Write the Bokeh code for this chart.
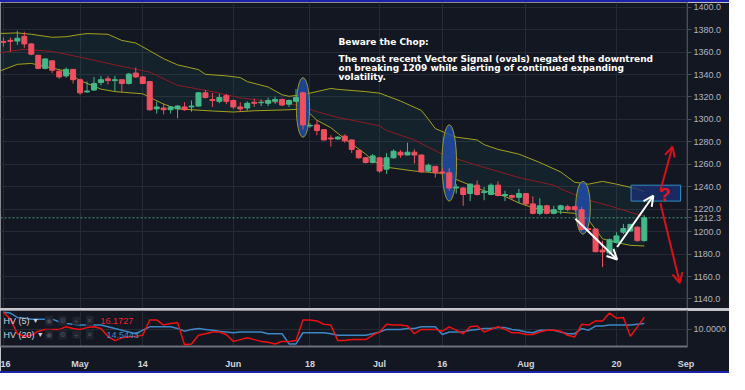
from bokeh.plotting import figure
from bokeh.models import (Range1d, FixedTicker, NumeralTickFormatter, Span, Label,
                          Arrow, OpenHead, ColumnDataSource, Div)
from bokeh.layouts import column
from bokeh.embed import file_html
from bokeh.resources import INLINE

# ---------------- data ----------------
tick_idx = [0, 11, 20, 33, 44, 54, 63, 75, 88, 98]
tick_labels = ["16", "May", "14", "Jun", "18", "Jul", "16", "Aug", "20", "Sep"]
price_ticks = [1140, 1160, 1180, 1200, 1220, 1240, 1260, 1280, 1300, 1320, 1340, 1360, 1380, 1400]
hv_ticks = [10]

opens = [1369.5, 1370.5, 1369.8, 1374.0, 1367.3, 1357.2, 1345.5, 1352.2, 1343.0, 1338.8,
         1344.6, 1335.4, 1324.5, 1326.2, 1332.9, 1336.2, 1334.6, 1335.4, 1332.0, 1341.3,
         1337.9, 1333.7, 1309.4, 1310.2, 1308.6, 1309.4, 1311.1, 1311.1, 1311.9, 1323.7,
         1317.8, 1316.1, 1321.1, 1316.9, 1311.1, 1310.2, 1315.3, 1314.9, 1314.4, 1316.1,
         1317.8, 1313.6, 1316.1, 1323.7, 1294.2, 1295.1, 1290.9, 1283.4, 1282.6, 1285.1,
         1281.7, 1272.5, 1265.8, 1261.6, 1265.8, 1255.7, 1265.8, 1270.8, 1268.3, 1270.8,
         1268.3, 1254.0, 1258.2, 1253.2, 1252.4, 1238.9, 1238.9, 1234.0, 1241.4, 1234.8,
         1233.1, 1241.4, 1232.2, 1232.2, 1230.6, 1233.9, 1224.7, 1216.3, 1223.0, 1216.3,
         1219.6, 1222.2, 1222.2, 1219.6, 1202.5, 1202.3, 1183.6, 1181.0, 1190.3, 1199.5,
         1200.6, 1204.0, 1192.0]
highs = [1373.0, 1373.0, 1379.0, 1378.2, 1368.0, 1357.5, 1354.5, 1352.5, 1344.6, 1346.3,
         1345.0, 1336.2, 1333.7, 1337.9, 1338.8, 1338.8, 1338.8, 1335.5, 1341.3, 1346.3,
         1338.8, 1334.0, 1316.1, 1314.4, 1311.9, 1312.8, 1315.3, 1316.9, 1324.5, 1326.2,
         1323.7, 1322.8, 1322.8, 1317.8, 1315.3, 1316.1, 1318.6, 1317.8, 1319.5, 1320.3,
         1318.6, 1317.8, 1327.0, 1324.5, 1296.8, 1299.3, 1291.0, 1285.9, 1285.1, 1286.7,
         1282.0, 1272.8, 1266.6, 1269.1, 1266.6, 1270.0, 1273.3, 1272.5, 1279.2, 1273.3,
         1268.5, 1260.7, 1258.5, 1256.5, 1256.5, 1242.3, 1239.8, 1243.1, 1245.6, 1239.8,
         1243.1, 1244.8, 1236.4, 1233.1, 1238.1, 1234.0, 1231.4, 1229.7, 1223.9, 1223.0,
         1223.9, 1223.9, 1223.0, 1222.2, 1203.5, 1203.1, 1192.0, 1193.9, 1199.5, 1206.9,
         1206.6, 1204.5, 1214.5]
lows = [1365.0, 1360.5, 1366.4, 1363.9, 1357.2, 1344.6, 1344.6, 1341.3, 1336.2, 1337.1,
        1332.0, 1322.0, 1323.7, 1325.3, 1330.4, 1331.2, 1325.3, 1324.5, 1331.2, 1337.1,
        1331.5, 1307.7, 1305.2, 1304.4, 1305.2, 1301.0, 1307.7, 1306.9, 1311.5, 1318.6,
        1311.1, 1314.4, 1313.6, 1309.4, 1306.9, 1307.7, 1311.1, 1311.9, 1311.9, 1313.6,
        1311.9, 1311.1, 1315.3, 1290.9, 1292.6, 1285.9, 1281.5, 1275.8, 1282.0, 1279.2,
        1270.0, 1265.0, 1260.7, 1260.7, 1252.4, 1251.5, 1265.0, 1265.8, 1268.0, 1260.7,
        1252.4, 1253.2, 1248.2, 1250.7, 1236.4, 1233.9, 1223.0, 1227.2, 1232.2, 1228.0,
        1232.5, 1231.4, 1227.2, 1228.0, 1225.5, 1223.0, 1215.4, 1214.6, 1215.4, 1215.4,
        1215.4, 1218.0, 1219.0, 1200.3, 1200.5, 1181.8, 1168.5, 1179.4, 1189.4, 1197.8,
        1200.0, 1191.1, 1191.1]
closes = [1368.7, 1369.6, 1372.3, 1367.3, 1358.1, 1345.5, 1353.9, 1343.8, 1337.9, 1344.6,
          1335.4, 1323.7, 1325.3, 1332.0, 1335.4, 1334.6, 1335.4, 1332.0, 1340.4, 1337.9,
          1332.0, 1308.6, 1311.1, 1308.6, 1311.1, 1311.9, 1308.6, 1311.9, 1323.7, 1319.5,
          1316.9, 1319.5, 1316.1, 1311.1, 1309.4, 1314.4, 1314.4, 1315.3, 1316.9, 1317.8,
          1312.8, 1316.9, 1319.5, 1295.1, 1294.7, 1290.1, 1281.7, 1282.6, 1284.2, 1280.9,
          1273.3, 1265.8, 1261.6, 1267.5, 1254.0, 1265.8, 1271.6, 1268.3, 1270.8, 1268.3,
          1253.2, 1259.1, 1252.4, 1252.4, 1238.9, 1239.8, 1233.1, 1242.3, 1233.1, 1235.6,
          1241.4, 1232.2, 1233.1, 1230.6, 1233.9, 1224.7, 1216.3, 1223.0, 1216.3, 1219.6,
          1223.0, 1219.6, 1219.6, 1202.0, 1202.0, 1182.1, 1181.9, 1192.8, 1196.2, 1202.8,
          1206.5, 1192.0, 1212.3]

# Bollinger bands (at these bar positions)
upper_x = [-1, 2, 4, 7, 9, 11, 12, 15, 17, 19, 21, 23, 25, 28, 29, 32, 34, 35, 38, 40, 41, 43,
           44, 47, 48, 52, 54, 57, 60, 61, 62, 65, 68, 69, 71, 74, 77, 80, 82, 84, 86, 88, 91, 92]
upper_v = [1376.5, 1377.1, 1375.9, 1373.2, 1373.7, 1375.7, 1376.5, 1375.9, 1370.4, 1368.1, 1361.2,
           1354.1, 1348.6, 1344.4, 1340.2, 1338.8, 1337.3, 1333.7, 1328.9, 1322.0, 1320.6, 1322.0,
           1323.4, 1327.6, 1326.8, 1324.8, 1323.4, 1316.4, 1308.0, 1300.2, 1291.8, 1284.2, 1281.7,
           1277.5, 1273.3, 1269.1, 1261.6, 1253.2, 1244.0, 1242.3, 1244.8, 1242.3, 1238.1, 1235.6]
mid_x = [-1, 3, 7, 11, 16, 21, 25, 30, 34, 38, 42, 45, 48, 54, 55, 59, 63, 65, 68, 74, 79, 80,
         84, 87, 91, 92]
mid_v = [1359.0, 1362.5, 1360.6, 1355.5, 1348.6, 1342.1, 1330.4, 1324.8, 1319.2, 1316.1, 1313.0,
         1306.9, 1301.8, 1294.3, 1290.1, 1281.7, 1269.1, 1264.9, 1259.1, 1248.2, 1241.4, 1238.1,
         1228.0, 1223.0, 1215.4, 1213.8]
lower_x = [-1, 2, 4, 6, 9, 11, 14, 16, 20, 23, 25, 30, 33, 36, 41, 43, 44, 45, 47, 49, 52, 53,
           55, 59, 62, 64, 65, 67, 69, 72, 74, 76, 79, 82, 84, 85, 86, 88, 90, 92]
lower_v = [1342.0, 1349.1, 1349.9, 1347.1, 1343.0, 1334.6, 1327.0, 1324.8, 1322.8, 1313.6, 1309.4,
           1307.5, 1306.6, 1307.7, 1308.6, 1309.4, 1305.2, 1299.3, 1292.6, 1282.6, 1269.1, 1263.3,
           1257.4, 1254.0, 1252.4, 1251.5, 1246.5, 1241.4, 1236.4, 1231.4, 1225.5, 1221.3, 1217.9,
           1216.3, 1210.4, 1202.0, 1193.6, 1190.3, 1187.8, 1187.2]

# Historical volatility
hv5 = [18.7, 15.2, 7.8, 6.5, 7.0, 9.1, 10.0, 10.0, 10.0, 11.3,
       10.4, 10.0, 10.9, 11.3, 10.4, 6.5, 4.3, 5.7, 6.1, 6.5,
       7.0, 14.8, 14.8, 12.2, 13.0, 13.5, 2.2, 2.6, 7.0, 7.8,
       8.7, 8.7, 7.4, 3.9, 4.8, 5.7, 4.8, 3.9, 3.5, 2.6,
       3.9, 3.9, 4.3, 14.8, 14.8, 14.3, 12.6, 12.2, 4.3, 4.3,
       4.8, 4.8, 4.8, 7.0, 8.7, 12.6, 12.2, 12.2, 11.7, 7.8,
       10.0, 10.0, 10.0, 9.1, 11.3, 9.6, 7.8, 11.3, 11.7, 8.7,
       10.0, 11.3, 10.0, 8.3, 8.3, 7.4, 7.4, 8.7, 9.6, 9.6,
       9.1, 7.0, 6.1, 12.6, 12.2, 14.3, 14.3, 18.3, 15.7, 16.1,
       6.5, 11.3, 16.2]
hv20 = [18.7, 18.3, 16.1, 15.7, 15.2, 15.2, 15.2, 15.2, 13.9, 13.0,
        12.6, 12.2, 12.2, 12.2, 12.2, 11.3, 10.4, 9.6, 8.7, 7.8,
        9.6, 11.3, 11.3, 11.3, 11.3, 10.4, 9.1, 10.0, 10.4, 10.0,
        9.6, 9.1, 8.7, 8.3, 8.7, 8.7, 8.7, 8.7, 7.8, 7.8,
        7.8, 2.6, 2.6, 8.3, 8.3, 8.3, 8.3, 7.8, 7.0, 7.0,
        7.0, 7.0, 7.0, 7.8, 8.7, 10.0, 10.0, 10.0, 10.4, 10.4,
        11.3, 11.3, 11.3, 7.4, 8.7, 8.7, 8.7, 9.6, 10.0, 10.4,
        10.4, 10.9, 10.9, 10.0, 9.6, 8.7, 8.3, 9.6, 9.6, 9.6,
        8.7, 7.8, 7.8, 10.4, 9.6, 11.7, 11.7, 12.2, 12.2, 12.2,
        12.2, 12.6, 13.0]
hv5_last = "16.1727"
hv20_last = "14.5443"

# Vector-signal ovals (bar, price centre, size)
oval_x = [43, 64, 83.2]
oval_y = [1310.7, 1261.2, 1221.3]
oval_w = [1.9, 2.1, 2.1]
oval_h = [53, 68, 47]

note_lines = ["Beware the Chop:",
              "The most recent Vector Signal (ovals) negated the downtrend",
              "on breaking 1209 while alerting of continued expanding",
              "volatility."]
note_y = [1369.0, 1353.6, 1345.7, 1337.7]

# ---------------- style ----------------
BG = "#131722"
GRID = "#262a35"
AXIS = "#4a4e5a"
RED = "#ef4f5e"
GREEN = "#44b888"
W = 729
RIGHT = 40
MAIN_H = 306
Y0, Y1 = 1131.5, 1404.2
X_RANGE = Range1d(-0.42, 98.2)

idx = list(range(len(opens)))
colors = [GREEN if c >= o else RED for o, c in zip(opens, closes)]
src = ColumnDataSource(dict(x=idx, h=highs, l=lows,
                            top=[max(o, c) for o, c in zip(opens, closes)],
                            bot=[min(o, c) for o, c in zip(opens, closes)],
                            color=colors))

p = figure(width=W, height=MAIN_H, x_range=X_RANGE, y_range=Range1d(Y0, Y1),
           output_backend="svg", toolbar_location=None,
           x_axis_location=None, y_axis_location="right",
           min_border_left=0, min_border_right=RIGHT, min_border_top=0, min_border_bottom=0,
           background_fill_color=BG, border_fill_color=BG, outline_line_color=None)

ya = p.yaxis[0]
# price scale: regular levels plus the last price
ya.ticker = FixedTicker(ticks=price_ticks + [closes[-1]])
ya.formatter = NumeralTickFormatter(format="0.0")
ya.axis_line_color = AXIS
ya.major_tick_line_color = AXIS
ya.major_tick_out = 4
ya.major_tick_in = 0
ya.minor_tick_line_color = None
ya.major_label_standoff = 2
ya.major_label_text_color = "#b2b5be"
ya.major_label_text_font = "Liberation Sans"
ya.major_label_text_font_size = "9px"
p.xgrid.ticker = FixedTicker(ticks=tick_idx)
p.ygrid.ticker = FixedTicker(ticks=price_ticks)
p.grid.grid_line_color = GRID

# band fill + lines
p.patch(upper_x + lower_x[::-1], upper_v + lower_v[::-1], fill_color="#26a69a", fill_alpha=0.08,
        line_color=None)
p.line(upper_x, upper_v, line_color="#a3a21c", line_width=1)
p.line(lower_x, lower_v, line_color="#a3a21c", line_width=1)
p.line(mid_x, mid_v, line_color="#8e1b22", line_width=1)

# ovals
p.ellipse(x=oval_x, y=oval_y, width=oval_w, height=oval_h, fill_color="#1f4ba6", fill_alpha=0.85,
          line_color="#9c9a2c", line_width=1)

# last price line
p.add_layout(Span(location=closes[-1], dimension="width", line_color="#4caf86",
                  line_dash="2 2", line_width=1, line_alpha=0.85))

# candles
p.segment("x", "h", "x", "l", source=src, line_color="color", line_width=1)
p.vbar(x="x", width=0.72, top="top", bottom="bot", fill_color="color", line_color="color",
       source=src)

# target box and question mark
p.quad(left=[90.1], right=[97.2], bottom=[1227.2], top=[1241.4], fill_color="#1a2f72",
       fill_alpha=0.8, line_color="#2c8fc4", line_width=1)
p.add_layout(Label(x=94.9, y=1233.1, text="?", text_color="#e8131d", text_font="Liberation Sans",
                   text_font_style="bold", text_font_size="19px", text_align="center",
                   text_baseline="middle"))

# arrows
for xs, ys, xe, ye, col in [(82.1, 1211.5, 88.1, 1175.2, "white"),
                            (88.1, 1186.3, 93.3, 1232.0, "white"),
                            (94.3, 1236.4, 96.05, 1275.8, "#d8101a"),
                            (94.3, 1225.5, 97.1, 1154.2, "#d8101a")]:
    p.add_layout(Arrow(x_start=xs, y_start=ys, x_end=xe, y_end=ye, line_color=col, line_width=2,
                       end=OpenHead(size=10, line_color=col, line_width=2)))

# note text
for t, yv in zip(note_lines, note_y):
    p.add_layout(Label(x=48.1, y=yv, text=t, text_color="white", text_font="DejaVu Sans",
                       text_font_style="bold", text_font_size="9px", text_baseline="alphabetic"))

# ---------------- HV panel ----------------
q = figure(width=W, height=61, x_range=X_RANGE, y_range=Range1d(1.3, 19.6),
           output_backend="svg", toolbar_location=None, y_axis_location="right",
           min_border_left=0, min_border_right=RIGHT, min_border_top=0, min_border_bottom=18,
           background_fill_color=BG, border_fill_color=BG, outline_line_color=None)
qa = q.yaxis[0]
qa.ticker = FixedTicker(ticks=hv_ticks)
qa.formatter = NumeralTickFormatter(format="0.0000")
qa.axis_line_color = AXIS
qa.major_tick_line_color = AXIS
qa.major_tick_out = 4
qa.major_tick_in = 0
qa.minor_tick_line_color = None
qa.major_label_standoff = 2
qa.major_label_text_color = "#b2b5be"
qa.major_label_text_font = "Liberation Sans"
qa.major_label_text_font_size = "9px"
xa = q.xaxis[0]
xa.ticker = FixedTicker(ticks=tick_idx)
xa.major_label_overrides = {t: l for t, l in zip(tick_idx, tick_labels)}
xa.axis_line_color = "#6e717b"
xa.axis_line_width = 2
xa.major_tick_line_color = None
xa.minor_tick_line_color = None
xa.major_label_standoff = 6
xa.major_label_text_color = "#d1d4dc"
xa.major_label_text_font = "Liberation Sans"
xa.major_label_text_font_style = "bold"
xa.major_label_text_font_size = "9px"
q.grid.grid_line_color = GRID

q.line(idx, hv20, line_color="#3d88c4", line_width=1.5)
q.line(idx, hv5, line_color="#f01010", line_width=1.5)

for row_y, name, val, vcol, vx, ax in [(14.35, "HV (5)", hv5_last, "#f21f2b", 13.95, 4.3),
                                       (7.4, "HV (20)", hv20_last, "#3f8bc9", 14.8, 5.0)]:
    q.add_layout(Label(x=0.0, y=row_y, text=name, text_color="#d1d4dc", text_font="Liberation Sans",
                       text_font_size="9px", text_baseline="middle"))
    q.add_layout(Label(x=ax, y=row_y, text="\u25be", text_color="#d1d4dc",
                       text_font="DejaVu Sans", text_font_size="8px", text_baseline="middle"))
    for ix, g in zip([6.55, 8.5, 10.46, 12.4], ["\u25c9", "\u2699", "+", "\u2715"]):
        q.add_layout(Label(x=ix, y=row_y, text=g, text_color="#4a4e59", text_font="DejaVu Sans",
                           text_font_size="7px", text_baseline="middle", text_align="center",
                           background_fill_color="#1f232e", padding=1))
    q.add_layout(Label(x=vx, y=row_y, text=val, text_color=vcol, text_font="Liberation Sans",
                       text_font_size="9px", text_baseline="middle"))

top_strip = Div(text="", width=W, height=2, margin=0, styles={"background-color": "#1c22a8"})
sep = Div(text="", width=W, height=2, margin=0, styles={"background-color": "#c6c8ce"})
bot_strip = Div(text="", width=W, height=2, margin=0, styles={"background-color": "#1c22a8"})

layout = column(top_strip, p, sep, q, bot_strip, spacing=0)
open("out.html", "w").write(file_html(layout, INLINE))
